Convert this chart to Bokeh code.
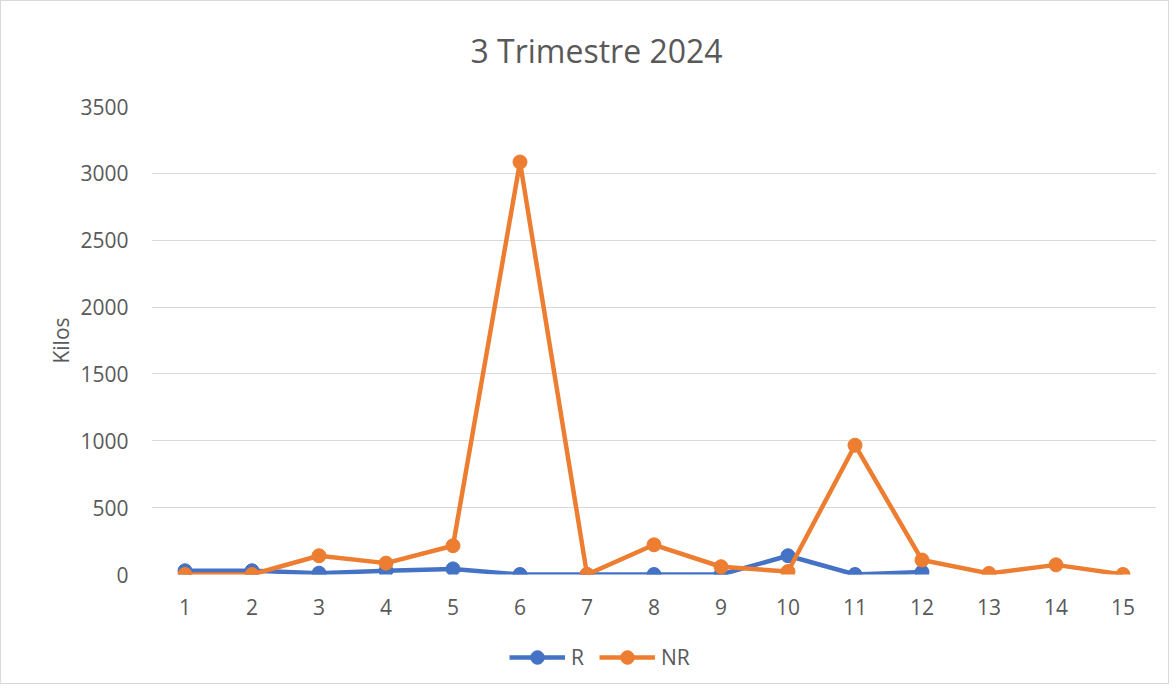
from bokeh.plotting import figure
from bokeh.layouts import column
from bokeh.models import Range1d, FixedTicker, Legend, LegendItem, Label
from bokeh.embed import file_html
from bokeh.resources import INLINE

title_text = "3 Trimestre 2024"
categories = list(range(1, 16))
r_x = list(range(1, 13))
r_values = [28, 28, 10, 28, 42, 0, 0, 0, 0, 140, 0, 18]
nr_x = list(range(1, 16))
nr_values = [0, 0, 140, 85, 215, 3085, 0, 222, 58, 22, 967, 108, 8, 72, 0]
y_ticks = [0, 500, 1000, 1500, 2000, 2500, 3000, 3500]
series_names = ["R", "NR"]

BLUE = "#4472C4"
ORANGE = "#ED7D31"
TXT = "#595959"
FONT = "Open Sans"
W = 1167

# title strip
ts = figure(width=W, height=88, output_backend="svg", toolbar_location=None,
            x_range=Range1d(150, 1155), y_range=Range1d(0, 88),
            min_border_left=0, min_border_right=0, min_border_top=0, min_border_bottom=0)
ts.outline_line_color = None
ts.axis.visible = False
ts.grid.visible = False
ts.add_layout(Label(x=595, y=39, text=title_text, text_align="center", text_baseline="middle",
                    text_font=FONT, text_font_size="32px", text_color=TXT))

# main chart
p = figure(width=W, height=542, output_backend="svg", toolbar_location=None,
           x_range=Range1d(0.5, 15.5), y_range=Range1d(0, 3500),
           min_border_left=150, min_border_right=12, min_border_top=17, min_border_bottom=57)
p.outline_line_color = None

p.xaxis.ticker = FixedTicker(ticks=categories)
p.yaxis.ticker = FixedTicker(ticks=y_ticks)
for ax in (p.xaxis, p.yaxis):
    ax.axis_line_color = None
    ax.major_tick_line_color = None
    ax.minor_tick_line_color = None
    ax.major_label_text_font = FONT
    ax.major_label_text_font_size = "21px"
    ax.major_label_text_color = TXT
p.xaxis.major_label_standoff = 18
p.yaxis.major_label_standoff = 17
p.yaxis.axis_label = "Kilos"
p.yaxis.axis_label_text_font = FONT
p.yaxis.axis_label_text_font_size = "21px"
p.yaxis.axis_label_text_font_style = "normal"
p.yaxis.axis_label_text_color = TXT
p.yaxis.axis_label_standoff = 2

p.xgrid.grid_line_color = None
p.ygrid.grid_line_color = "#D9D9D9"
p.ygrid.grid_line_width = 1

p.line(r_x, r_values, line_color=BLUE, line_width=4.5)
p.scatter(r_x, r_values, size=14, fill_color=BLUE, line_color=BLUE)
p.line(nr_x, nr_values, line_color=ORANGE, line_width=4.5)
p.scatter(nr_x, nr_values, size=14, fill_color=ORANGE, line_color=ORANGE)

# legend strip below the chart (its own copies of the series lie outside its view)
lg = figure(width=W, height=52, output_backend="svg", toolbar_location=None,
            x_range=Range1d(-3, -2), y_range=Range1d(-3, -2),
            min_border_left=0, min_border_right=0, min_border_top=0, min_border_bottom=0)
lg.outline_line_color = None
lg.axis.visible = False
lg.grid.visible = False
items = []
for name, col, xs, ys in zip(series_names, [BLUE, ORANGE], [r_x, nr_x], [r_values, nr_values]):
    l = lg.line(xs, ys, line_color=col, line_width=4.5)
    s = lg.scatter(xs, ys, size=14, fill_color=col, line_color=col)
    items.append(LegendItem(label=name, renderers=[l, s]))
legend = Legend(items=items, orientation="horizontal", location=(358, 9),
                glyph_width=56, glyph_height=34, label_standoff=6, spacing=8,
                padding=0, margin=0, border_line_color=None, background_fill_alpha=0,
                label_text_font=FONT, label_text_font_size="21px", label_text_color=TXT)
lg.add_layout(legend)

layout = column(ts, p, lg, spacing=0)
layout.styles = {"border": "1px solid #D9D9D9"}

open("out.html", "w").write(file_html(layout, INLINE))
